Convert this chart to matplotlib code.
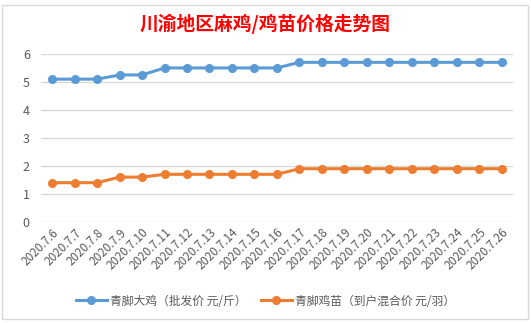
import matplotlib.pyplot as plt
from matplotlib.patches import Rectangle

plt.rcParams['font.family'] = ['Noto Sans CJK SC', 'DejaVu Sans']

dates = ['2020.7.6', '2020.7.7', '2020.7.8', '2020.7.9', '2020.7.10', '2020.7.11',
         '2020.7.12', '2020.7.13', '2020.7.14', '2020.7.15', '2020.7.16', '2020.7.17',
         '2020.7.18', '2020.7.19', '2020.7.20', '2020.7.21', '2020.7.22', '2020.7.23',
         '2020.7.24', '2020.7.25', '2020.7.26']
big_chicken = [5.1, 5.1, 5.1, 5.25, 5.25, 5.5, 5.5, 5.5, 5.5, 5.5, 5.5,
               5.7, 5.7, 5.7, 5.7, 5.7, 5.7, 5.7, 5.7, 5.7, 5.7]
chick = [1.4, 1.4, 1.4, 1.6, 1.6, 1.7, 1.7, 1.7, 1.7, 1.7, 1.7,
         1.9, 1.9, 1.9, 1.9, 1.9, 1.9, 1.9, 1.9, 1.9, 1.9]

label_big = '青脚大鸡（批发价 元/斤）'
label_chick = '青脚鸡苗（到户混合价 元/羽）'

fig = plt.figure(figsize=(5.31, 3.23), dpi=100)
ax = fig.add_axes([0.077, 0.313, 0.889, 0.52])

x = range(len(dates))
ax.plot(x, big_chicken, color='#5B9BD5', lw=2.2, marker='o', ms=5.5, label=label_big, zorder=3)
ax.plot(x, chick, color='#ED7D31', lw=2.2, marker='o', ms=5.5, label=label_chick, zorder=3)

ax.set_xlim(-0.5, len(dates) - 0.5)
ax.set_ylim(0, 6)
ax.set_yticks(range(0, 7))
ax.grid(axis='y', color='#D9D9D9', lw=1)
ax.set_axisbelow(True)
for s in ax.spines.values():
    s.set_visible(False)
ax.tick_params(length=0, colors='#595959', labelsize=9, pad=8)
ax.set_xticks(list(x))
ax.set_xticklabels(dates, rotation=45, ha='right', rotation_mode='anchor', fontsize=8.5)
ax.tick_params(axis='x', pad=3)

fig.text(0.5, 0.925, '川渝地区麻鸡/鸡苗价格走势图', color='#FF0000', fontsize=13.5,
         fontweight='bold', ha='center', va='center')

fig.legend(loc='center', bbox_to_anchor=(0.5, 0.068), ncol=2, frameon=False,
           fontsize=8.5, handlelength=2.6, columnspacing=1.2, handletextpad=0.3,
           labelcolor='#595959')

# chart border
fig.add_artist(Rectangle((2 / 531, 4 / 323), 526 / 531, 314 / 323, transform=fig.transFigure,
                         fill=False, edgecolor='#D9D9D9', lw=1))

fig.savefig('out.png', dpi=100, facecolor='white')
